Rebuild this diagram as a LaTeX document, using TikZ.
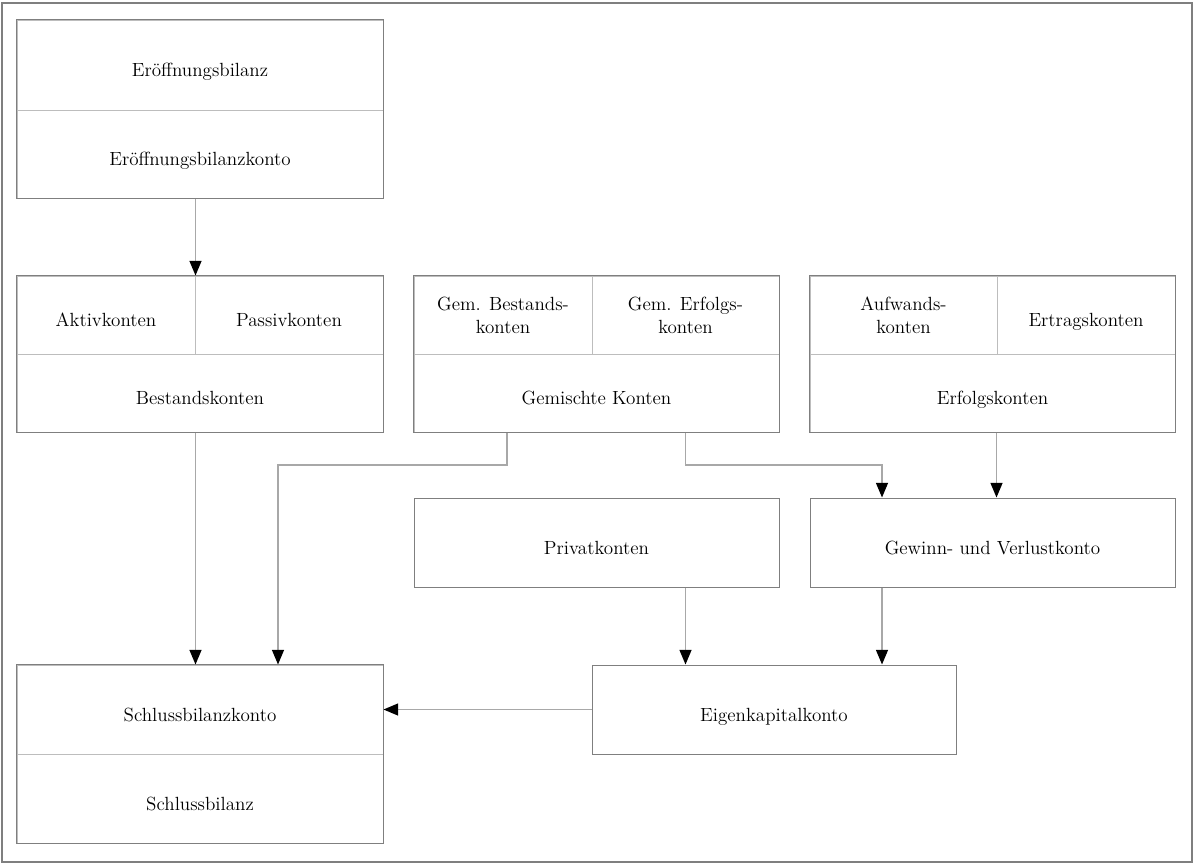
\documentclass[tikz,border=0pt]{standalone}
\usetikzlibrary{arrows.meta}
\definecolor{framecol}{HTML}{7F7F7F}
\definecolor{divcol}{HTML}{BDBDBD}
\definecolor{conncol}{HTML}{A8A8A8}
\begin{document}
\begin{tikzpicture}[x=0.75pt,y=-0.75pt,
  cell/.style={draw=divcol, line width=0.75pt, inner sep=0pt, align=center,
    font=\fontsize{14.3}{17.2}\selectfont, text=black},
  one/.style={text height=21pt, text depth=3.5pt},
  single/.style={cell, draw=framecol},
  outline/.style={draw=framecol, line width=0.75pt},
  conn/.style={draw=conncol, line width=1pt, -{Triangle[length=11pt,width=9pt,color=black]}}]
\useasboundingbox (0,0) rectangle (1194,864);
\draw[framecol, line width=0.9pt] (2,3) rectangle (1192,862);

% Box A
\node[cell, one, minimum width=274.5pt, minimum height=67.5pt] (eb) at (200,65) {Eröffnungsbilanz};
\node[cell, one, minimum width=274.5pt, minimum height=66pt] (ebk) at (200,154) {Eröffnungsbilanzkonto};
\draw[outline] (eb.north west) rectangle (ebk.south east);

% Box B
\node[cell, one, minimum width=133.5pt, minimum height=58.5pt] (akt) at (106,315) {Aktivkonten};
\node[cell, one, minimum width=141pt, minimum height=58.5pt] (pas) at (289,315) {Passivkonten};
\node[cell, one, minimum width=274.5pt, minimum height=58.5pt] (bk) at (200,393) {Bestandskonten};
\draw[outline] (akt.north west) rectangle (bk.south east);

% Box C
\node[cell, minimum width=133.5pt, minimum height=58.5pt] (gb) at (503,315) {Gem. Bestands-\\konten};
\node[cell, minimum width=140.25pt, minimum height=58.5pt] (ge) at (685.5,315) {Gem. Erfolgs-\\konten};
\node[cell, one, minimum width=273.75pt, minimum height=58.5pt] (gk) at (596.5,393) {Gemischte Konten};
\draw[outline] (gb.north west) rectangle (gk.south east);

% Box D
\node[cell, minimum width=140.25pt, minimum height=58.5pt] (auf) at (903.5,315) {Aufwands-\\konten};
\node[cell, one, minimum width=133.5pt, minimum height=58.5pt] (ert) at (1086,315) {Ertragskonten};
\node[cell, one, minimum width=273.75pt, minimum height=58.5pt] (erk) at (992.5,393) {Erfolgskonten};
\draw[outline] (auf.north west) rectangle (erk.south east);

% Box E, F
\node[single, one, minimum width=273.75pt, minimum height=66.75pt] (pk) at (596.5,542.5) {Privatkonten};
\node[single, one, minimum width=273.75pt, minimum height=66.75pt] (guv) at (992.5,542.5) {Gewinn- und Verlustkonto};

% Box G
\node[cell, one, minimum width=274.5pt, minimum height=66.75pt] (sbk) at (200,709.5) {Schlussbilanzkonto};
\node[cell, one, minimum width=274.5pt, minimum height=66.75pt] (sb) at (200,798.5) {Schlussbilanz};
\draw[outline] (sbk.north west) rectangle (sb.south east);

% Box H
\node[single, one, minimum width=273pt, minimum height=66.75pt] (ek) at (774,709.5) {Eigenkapitalkonto};

% helper coordinates
\coordinate (xl) at (507,465);
\coordinate (xs) at (278,465);
\coordinate (xg) at (882,465);

% Connectors
\draw[conn] (ebk.south -| akt.north east) -- (akt.north east);
\draw[conn] (bk.south -| akt.east) -- (sbk.north -| akt.east);
\draw[conn] (gk.south -| xl) -- (xl) -- (xs) -- (sbk.north -| xs);
\draw[conn] (gk.south -| ge.center) |- (xg) -- (guv.north -| xg);
\draw[conn] (erk.south -| ert.west) -- (guv.north -| ert.west);
\draw[conn] (pk.south -| ge.center) -- (ek.north -| ge.center);
\draw[conn] (guv.south -| xg) -- (ek.north -| xg);
\draw[conn] (ek.west) -- (sbk.east);
\end{tikzpicture}
\end{document}
